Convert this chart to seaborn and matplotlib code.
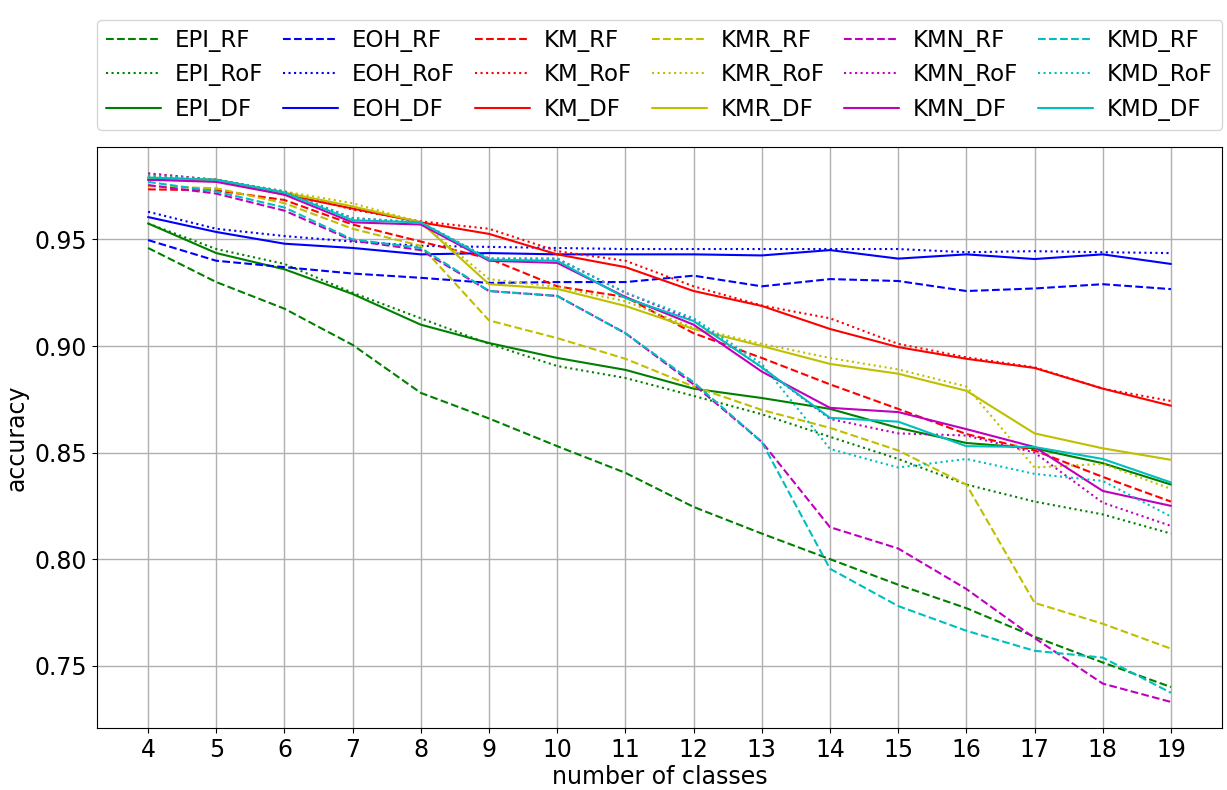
import matplotlib
matplotlib.use("Agg")
import matplotlib.pyplot as plt
import seaborn as sns
import pandas as pd

classes = list(range(4, 20))

EPI_RF = [0.946, 0.930, 0.9175, 0.9005, 0.878, 0.866, 0.853, 0.8405, 0.8245, 0.812, 0.800, 0.788, 0.777, 0.7636, 0.7515, 0.740]
EPI_RoF = [0.9575, 0.9455, 0.9385, 0.925, 0.913, 0.901, 0.8906, 0.885, 0.8766, 0.868, 0.8574, 0.847, 0.835, 0.827, 0.821, 0.812]
EPI_DF = [0.9575, 0.9436, 0.936, 0.9244, 0.910, 0.9014, 0.8944, 0.8888, 0.880, 0.8756, 0.8705, 0.8616, 0.8545, 0.852, 0.845, 0.835]

EOH_RF = [0.9497, 0.940, 0.937, 0.934, 0.932, 0.9296, 0.930, 0.930, 0.933, 0.928, 0.9314, 0.9305, 0.9258, 0.927, 0.929, 0.9267]
EOH_RoF = [0.963, 0.955, 0.9516, 0.949, 0.947, 0.9465, 0.946, 0.9455, 0.9455, 0.9455, 0.9455, 0.9455, 0.944, 0.9445, 0.944, 0.9436]
EOH_DF = [0.9605, 0.9535, 0.948, 0.946, 0.943, 0.9436, 0.943, 0.943, 0.943, 0.9425, 0.945, 0.941, 0.943, 0.9408, 0.943, 0.9385]

KM_RF = [0.9735, 0.973, 0.9685, 0.957, 0.949, 0.941, 0.928, 0.923, 0.906, 0.8944, 0.882, 0.8705, 0.8587, 0.851, 0.8386, 0.827]
KM_RoF = [0.980, 0.978, 0.9725, 0.964, 0.9585, 0.955, 0.9445, 0.940, 0.928, 0.919, 0.913, 0.901, 0.8947, 0.890, 0.880, 0.8742]
KM_DF = [0.978, 0.978, 0.971, 0.9645, 0.958, 0.9526, 0.943, 0.937, 0.9258, 0.9188, 0.908, 0.8995, 0.894, 0.8897, 0.880, 0.872]

KMR_RF = [0.975, 0.974, 0.967, 0.955, 0.947, 0.912, 0.9037, 0.894, 0.881, 0.870, 0.8616, 0.851, 0.835, 0.7795, 0.7697, 0.758]
KMR_RoF = [0.981, 0.978, 0.9725, 0.967, 0.958, 0.9314, 0.9277, 0.921, 0.9085, 0.901, 0.8944, 0.889, 0.881, 0.843, 0.8447, 0.833]
KMR_DF = [0.979, 0.978, 0.972, 0.9655, 0.958, 0.929, 0.9268, 0.9188, 0.908, 0.900, 0.8916, 0.887, 0.879, 0.859, 0.852, 0.8466]

KMN_RF = [0.9755, 0.9715, 0.9635, 0.9495, 0.945, 0.9258, 0.9235, 0.906, 0.882, 0.855, 0.815, 0.805, 0.786, 0.763, 0.7416, 0.733]
KMN_RoF = [0.981, 0.978, 0.9725, 0.960, 0.958, 0.941, 0.941, 0.925, 0.912, 0.890, 0.8658, 0.859, 0.858, 0.850, 0.8265, 0.8156]
KMN_DF = [0.978, 0.977, 0.971, 0.958, 0.957, 0.940, 0.939, 0.923, 0.910, 0.888, 0.871, 0.869, 0.861, 0.8526, 0.832, 0.825]

KMD_RF = [0.977, 0.9725, 0.965, 0.950, 0.946, 0.9258, 0.9235, 0.906, 0.883, 0.855, 0.7955, 0.778, 0.7664, 0.757, 0.7538, 0.7373]
KMD_RoF = [0.980, 0.978, 0.9725, 0.960, 0.958, 0.941, 0.941, 0.925, 0.913, 0.8916, 0.8517, 0.843, 0.847, 0.840, 0.8367, 0.820]
KMD_DF = [0.979, 0.978, 0.972, 0.959, 0.958, 0.9405, 0.940, 0.9225, 0.9117, 0.890, 0.8663, 0.8645, 0.853, 0.8526, 0.847, 0.836]

series = {
    "EPI_RF": EPI_RF, "EPI_RoF": EPI_RoF, "EPI_DF": EPI_DF,
    "EOH_RF": EOH_RF, "EOH_RoF": EOH_RoF, "EOH_DF": EOH_DF,
    "KM_RF": KM_RF, "KM_RoF": KM_RoF, "KM_DF": KM_DF,
    "KMR_RF": KMR_RF, "KMR_RoF": KMR_RoF, "KMR_DF": KMR_DF,
    "KMN_RF": KMN_RF, "KMN_RoF": KMN_RoF, "KMN_DF": KMN_DF,
    "KMD_RF": KMD_RF, "KMD_RoF": KMD_RoF, "KMD_DF": KMD_DF,
}
colors = {"EPI": "g", "EOH": "b", "KM": "r", "KMR": "y", "KMN": "m", "KMD": "c"}
styles = {"RF": "--", "RoF": ":", "DF": "-"}

sns.set_style("ticks")
plt.rcParams["font.family"] = ["DejaVu Sans"]
plt.rcParams["text.color"] = "black"
plt.rcParams["axes.labelcolor"] = "black"
plt.rcParams["xtick.color"] = "black"
plt.rcParams["ytick.color"] = "black"

fig, ax = plt.subplots(figsize=(12.27, 7.9), dpi=100)
for name, values in series.items():
    method, clf = name.split("_")
    df = pd.DataFrame({"classes": classes, "accuracy": values})
    sns.lineplot(
        data=df, x="classes", y="accuracy", ax=ax,
        color=colors[method], linestyle=styles[clf], linewidth=1.5, label=name,
    )

ax.grid(True, color="#b0b0b0", linewidth=1)
ax.set_xticks(classes)
ax.tick_params(labelsize=17)
ax.set_xlabel("number of classes", fontsize=17, labelpad=2)
ax.set_ylabel("accuracy", fontsize=17)
for s in ax.spines.values():
    s.set_color("black")

ax.legend(
    ncol=6, loc="lower left", bbox_to_anchor=(0, 1.029, 1, 0.21),
    mode="expand", borderaxespad=0, fontsize=16.5, handlelength=2.4,
    handletextpad=0.6,
)

fig.subplots_adjust(left=0.079, right=0.996, top=0.814, bottom=0.078)
fig.savefig("out.png", dpi=100)
